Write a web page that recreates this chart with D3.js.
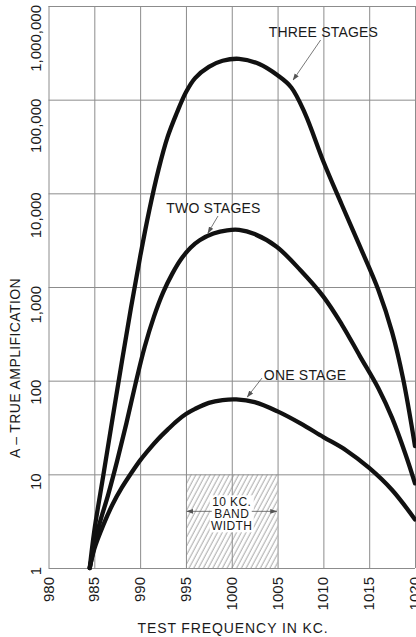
<!DOCTYPE html>
<html>
<head>
<meta charset="utf-8">
<script src="https://cdn.jsdelivr.net/npm/d3@7"></script>
<style>
  html, body { margin: 0; padding: 0; background: #fff; }
  svg { display: block; }
  text { font-family: "Liberation Sans", Arial, sans-serif; fill: #1a1a1a; }
</style>
</head>
<body>
<svg id="chart" width="416" height="637"></svg>
<script>
// ---- data ----
const xTicks = [980, 985, 990, 995, 1000, 1005, 1010, 1015, 1020];
const xTickLabels = ["980", "985", "990", "995", "1000", "1005", "1010", "1015", "1020"];
const yTicks = [1, 10, 100, 1000, 10000, 100000, 1000000];
const yTickLabels = ["1", "10", "100", "1,000", "10,000", "100,000", "1,000,000"];

const freqOne  = [984.5, 985, 986, 987, 988, 989, 990, 991, 992, 993, 994, 995, 996, 997.5, 999, 1000.5, 1002.5, 1005, 1007.5, 1010, 1012.5, 1015, 1017.5, 1020];
const oneStage = [1, 1.6, 2.9, 4.8, 7.2, 10.2, 14.1, 18.6, 24, 30, 37, 44, 50, 58, 62, 63, 59, 47, 35, 25, 18, 11.7, 6.8, 3.3];

const freqTwo  = [984.5, 985.5, 986.5, 987.5, 988.5, 989.5, 990.5, 991.5, 992.5, 993.5, 994.5, 995.5, 996.5, 998, 999.5, 1000.8, 1002.5, 1004.9, 1007.5, 1010, 1012, 1014, 1016, 1017.5, 1019, 1020];
const twoStage = [1, 2.8, 6, 14, 35, 93, 230, 480, 870, 1380, 2000, 2630, 3160, 3720, 4030, 4070, 3670, 2690, 1510, 790, 400, 182, 83, 40, 16, 8];

const freqThree  = [984.5, 985, 986, 987, 988, 989, 990, 991, 992, 993, 994, 995, 996, 997.5, 999, 1000.8, 1003, 1005, 1006.5, 1008, 1010, 1012, 1014, 1016, 1017.5, 1018.7, 1020];
const threeStage = [1, 2.5, 10, 40, 158, 600, 2100, 6600, 17800, 40000, 72000, 120000, 170000, 224000, 260000, 273000, 240000, 182000, 135000, 71000, 21900, 7600, 2700, 930, 330, 105, 20];

const seriesNames = ["ONE STAGE", "TWO STAGES", "THREE STAGES"];
const bandFreqs = [995, 1005];
const bandValues = [1, 10];
const bandText = ["10 KC.", "BAND", "WIDTH"];
const xTitle = "TEST FREQUENCY IN KC.";
const yTitle = "A \u2013 TRUE AMPLIFICATION";

// annotation anchors in data units: [textFreq, textValue, fromFreq, fromValue, tipFreq, tipValue]
const annoThree = [1010.0, Math.pow(10, 5.669), 1009.7, Math.pow(10, 5.637), 1006.7, Math.pow(10, 5.21)];
const annoTwo   = [998.0,  Math.pow(10, 3.79),  998.5,  Math.pow(10, 3.758), 997.4,  Math.pow(10, 3.576)];
const annoOne   = [1008.0, Math.pow(10, 2.007), 1003.3, Math.pow(10, 2.028), 1001.7, Math.pow(10, 1.826)];

// ---- layout ----
const svg = d3.select("#chart");
const x = d3.scaleLinear().domain([980, 1020]).range([48.5, 415]);
const y = d3.scaleLog().domain([1, 1000000]).range([568, 6]);

const defs = svg.append("defs");
const pat = defs.append("pattern")
  .attr("id", "hatch").attr("patternUnits", "userSpaceOnUse")
  .attr("width", 4.2).attr("height", 8)
  .attr("patternTransform", "rotate(28)");
pat.append("line").attr("x1", 1).attr("y1", 0).attr("x2", 1).attr("y2", 8)
  .attr("stroke", "#8a8a8a").attr("stroke-width", 0.8);

defs.append("marker").attr("id", "arrow").attr("viewBox", "0 0 10 10")
  .attr("refX", 9).attr("refY", 5).attr("markerWidth", 7).attr("markerHeight", 7)
  .attr("orient", "auto-start-reverse").attr("markerUnits", "userSpaceOnUse")
  .append("path").attr("d", "M0,1.5 L10,5 L0,8.5 Z").attr("fill", "#555");

// hatched band box
svg.append("rect")
  .attr("x", x(bandFreqs[0])).attr("y", y(bandValues[1]))
  .attr("width", x(bandFreqs[1]) - x(bandFreqs[0]))
  .attr("height", y(bandValues[0]) - y(bandValues[1]))
  .attr("fill", "url(#hatch)");

// grid via axes
const gx = svg.append("g").attr("transform", `translate(0,${y(1)})`)
  .call(d3.axisBottom(x).tickValues(xTicks).tickSize(-(y(1) - y(1000000))).tickFormat(""));
const gy = svg.append("g").attr("transform", `translate(${x(980)},0)`)
  .call(d3.axisLeft(y).tickValues(yTicks).tickSize(-(x(1020) - x(980))).tickFormat(""));
[gx, gy].forEach(g => {
  g.select(".domain").remove();
  g.selectAll(".tick line").attr("stroke", "#8c8c8c").attr("stroke-width", 1);
});

// band label
const bx = (x(bandFreqs[0]) + x(bandFreqs[1])) / 2;
const bTop = y(bandValues[1]);
svg.append("rect").attr("x", bx - 22).attr("y", bTop + 21).attr("width", 44).attr("height", 37).attr("fill", "#fff");
bandText.forEach((t, i) => {
  svg.append("text").attr("x", bx).attr("y", bTop + 32 + i * 12)
    .attr("text-anchor", "middle").attr("font-size", 12).attr("letter-spacing", 0.4).text(t);
});
const dimY = bTop + 37;
svg.append("line").attr("x1", bx - 20).attr("y1", dimY).attr("x2", x(bandFreqs[0]) + 1).attr("y2", dimY)
  .attr("stroke", "#555").attr("stroke-width", 0.8).attr("marker-end", "url(#arrow)");
svg.append("line").attr("x1", bx + 20).attr("y1", dimY).attr("x2", x(bandFreqs[1]) - 1).attr("y2", dimY)
  .attr("stroke", "#555").attr("stroke-width", 0.8).attr("marker-end", "url(#arrow)");

// curves
const line = d3.line().x(d => x(d[0])).y(d => y(d[1])).curve(d3.curveCatmullRom.alpha(0.5));
[[freqOne, oneStage], [freqTwo, twoStage], [freqThree, threeStage]].forEach(([f, v]) => {
  svg.append("path").datum(f.map((fv, i) => [fv, v[i]]))
    .attr("d", line).attr("fill", "none").attr("stroke", "#111")
    .attr("stroke-width", 4.3).attr("stroke-linecap", "round").attr("stroke-linejoin", "round");
});

// annotations
[[annoOne, seriesNames[0]], [annoTwo, seriesNames[1]], [annoThree, seriesNames[2]]].forEach(([a, name]) => {
  svg.append("text").attr("x", x(a[0])).attr("y", y(a[1]))
    .attr("text-anchor", "middle").attr("font-size", 14).attr("letter-spacing", 0.2).text(name);
  svg.append("line").attr("x1", x(a[2])).attr("y1", y(a[3])).attr("x2", x(a[4])).attr("y2", y(a[5]))
    .attr("stroke", "#555").attr("stroke-width", 0.8).attr("marker-end", "url(#arrow)");
});

// y tick labels (rotated)
yTicks.forEach((v, i) => {
  svg.append("text")
    .attr("transform", `translate(41,${y(v) - 1}) rotate(-90)`)
    .attr("text-anchor", "end").attr("font-size", 15).text(yTickLabels[i]);
});
// x tick labels (rotated)
xTicks.forEach((v, i) => {
  svg.append("text")
    .attr("transform", `translate(${x(v) + 5},577) rotate(-90)`)
    .attr("text-anchor", "end").attr("font-size", 15).text(xTickLabels[i]);
});

// axis titles
svg.append("text").attr("x", 233).attr("y", 633).attr("text-anchor", "middle")
  .attr("font-size", 14).attr("letter-spacing", 0.9).text(xTitle);
svg.append("text").attr("transform", "translate(20,368) rotate(-90)").attr("text-anchor", "middle")
  .attr("font-size", 14).attr("letter-spacing", 0.4).text(yTitle);
</script>
</body>
</html>
